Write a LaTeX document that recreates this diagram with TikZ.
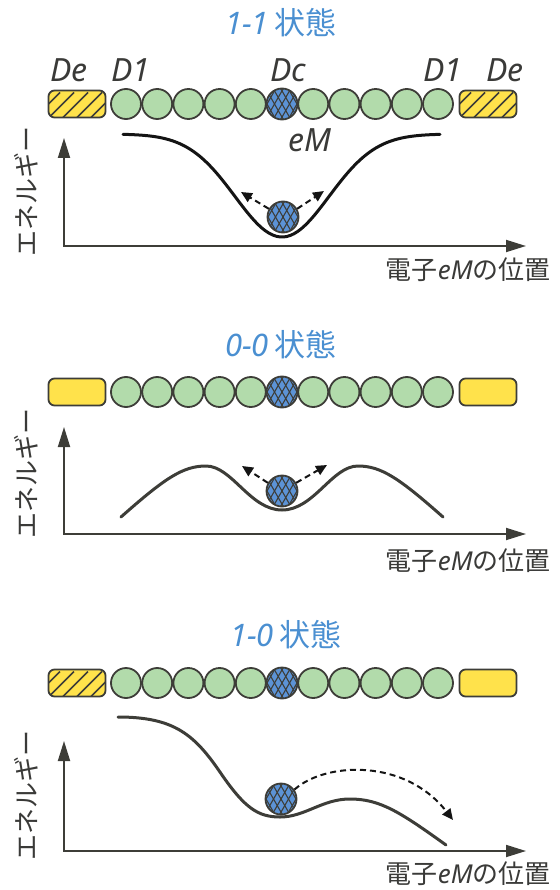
\documentclass[tikz,border=0pt]{standalone}
\usepackage{fontspec}
\setmainfont{Noto Sans}
\newfontfamily\jp{Noto Sans CJK JP}
\usetikzlibrary{arrows.meta}
\definecolor{lineC}{RGB}{61,61,56}
\definecolor{txtC}{RGB}{58,58,56}
\definecolor{beadG}{RGB}{178,219,171}
\definecolor{boxY}{RGB}{255,226,75}
\definecolor{ballB}{RGB}{92,147,214}
\definecolor{titleB}{RGB}{74,143,209}
\definecolor{curveK}{RGB}{20,20,20}
\begin{document}
\begin{tikzpicture}[x=1pt,y=-1pt,
  bead/.style={circle, draw=lineC, line width=1.8pt, fill=beadG, minimum size=30pt, inner sep=0pt},
  debox/.style={rectangle, rounded corners=6pt, draw=lineC, line width=1.8pt, fill=boxY, minimum width=57pt, minimum height=27pt, inner sep=0pt},
  hatchbox/.style={path picture={\foreach \k in {-5,...,5}{\draw[lineC, line width=1.6pt] ([xshift=\k*14pt]path picture bounding box.south) ++(-25pt,-25pt) -- ++(50pt,50pt);}}},
  dcball/.style={circle, draw=lineC, line width=1.8pt, fill=ballB, minimum size=31pt, inner sep=0pt,
    path picture={\foreach \k in {-6,...,6}{
      \draw[lineC, line width=1.1pt] ([xshift=\k*7.5pt]path picture bounding box.center) ++(-12pt,-21pt) -- ++(24pt,42pt);
      \draw[lineC, line width=1.1pt] ([xshift=\k*7.5pt]path picture bounding box.center) ++(12pt,-21pt) -- ++(-24pt,42pt);}}},
  title/.style={text=titleB, font=\fontsize{31}{36}\selectfont, inner sep=0pt},
  lab/.style={text=txtC, font=\fontsize{32}{36}\selectfont\itshape, inner sep=0pt, anchor=base},
  ylab/.style={text=txtC, font=\fontsize{26}{30}\selectfont\jp, inner sep=0pt, rotate=90},
  xlab/.style={text=txtC, font=\fontsize{26}{30}\selectfont, inner sep=0pt, anchor=east},
  axis/.style={draw=lineC, line width=1.8pt, {Triangle[length=20pt,width=12pt]}-{Triangle[length=20pt,width=12pt]}},
  curve/.style={line width=3pt, line cap=round},
  dasharr/.style={draw=curveK, line width=2pt, dash pattern=on 6pt off 4pt, -{Triangle[length=11pt,width=10pt]}},
]
\useasboundingbox (0,0) rectangle (559,890);

% ---------------- Row 1 ----------------
\node[title] (t1) at (281,23) {\itshape 1-1\hspace{6pt}{\upshape\jp 状態}};
\node[lab] (lDe1) at (69,82) {De};
\node[lab] (lD11) at (131,82) {D1};
\node[lab] (lDc1) at (288,82) {Dc};
\node[lab] (lD12) at (443,82) {D1};
\node[lab] (lDe2) at (505,82) {De};
\node[debox,hatchbox] (deL1) at (77,104) {};
\node[debox,hatchbox] (deR1) at (488,104) {};
\foreach \k in {-5,...,-1,1,2,3,4,5} \node[bead] (b1\k) at ({282+\k*31.2},104) {};
\node[dcball] (dc1) at (282,104) {};
\node[lab] (leM) at (310,152) {eM};

\coordinate (yt1) at (64,138);
\coordinate (o1) at (64,246);
\coordinate (xt1) at (526,246);
\draw[axis] (yt1) -- (o1) -- (xt1);
\node[ylab] (yl1) at (26,192) {エネルギー};
\node[xlab] (xl1) at (551,270) {{\jp 電子}\textit{eM}{\jp の位置}};
\draw[curve, draw=curveK] plot[domain=123:440, samples=90, smooth] (\x, {134+103*exp(-0.5*((\x-282)/47)^2)});
\node[dcball] (ball1) at (283,217) {};
\coordinate (a1l) at (241,192);
\coordinate (a1r) at (324,191);
\draw[dasharr] (ball1.150) -- (a1l);
\draw[dasharr] (ball1.30) -- (a1r);

% ---------------- Row 2 ----------------
\node[title] (t2) at (281,345) {\itshape 0-0\hspace{6pt}{\upshape\jp 状態}};
\node[debox] (deL2) at (77,392) {};
\node[debox] (deR2) at (488,392) {};
\foreach \k in {-5,...,-1,1,2,3,4,5} \node[bead] (b2\k) at ({282+\k*31.2},392) {};
\node[dcball] (dc2) at (282,392) {};

\coordinate (yt2) at (64,427);
\coordinate (o2) at (64,534);
\coordinate (xt2) at (526,534);
\draw[axis] (yt2) -- (o2) -- (xt2);
\node[ylab] (yl2) at (26,473) {エネルギー};
\node[xlab] (xl2) at (551,561) {{\jp 電子}\textit{eM}{\jp の位置}};
\draw[curve, draw=lineC] (121,517) .. controls (165,478) and (183,466) .. (206,466)
  .. controls (232,466) and (250,510) .. (282,510)
  .. controls (314,510) and (332,466) .. (358,466)
  .. controls (381,466) and (399,478) .. (443,517);
\node[dcball] (ball2) at (282,491) {};
\coordinate (a2l) at (242,466);
\coordinate (a2r) at (327,465);
\draw[dasharr] (ball2.150) -- (a2l);
\draw[dasharr] (ball2.30) -- (a2r);

% ---------------- Row 3 ----------------
\node[title] (t3) at (286,635) {\itshape 1-0\hspace{6pt}{\upshape\jp 状態}};
\node[debox,hatchbox] (deL3) at (77,683) {};
\node[debox] (deR3) at (488,683) {};
\foreach \k in {-5,...,-1,1,2,3,4,5} \node[bead] (b3\k) at ({282+\k*31.2},683) {};
\node[dcball] (dc3) at (282,683) {};

\coordinate (yt3) at (64,741);
\coordinate (o3) at (64,851);
\coordinate (xt3) at (526,851);
\draw[axis] (yt3) -- (o3) -- (xt3);
\node[ylab] (yl3) at (26,795) {エネルギー};
\node[xlab] (xl3) at (551,874) {{\jp 電子}\textit{eM}{\jp の位置}};
\draw[curve, draw=lineC] (118,717) .. controls (175,717) and (195,735) .. (222,775)
  .. controls (245,808) and (258,817) .. (280,817)
  .. controls (305,817) and (322,799) .. (350,799)
  .. controls (380,799) and (400,812) .. (446,845);
\node[dcball] (ball3) at (281,799) {};
\coordinate (a3) at (453,820);
\draw[dasharr] (ball3.35) .. controls (325,762) and (405,758) .. (a3);
\end{tikzpicture}
\end{document}
